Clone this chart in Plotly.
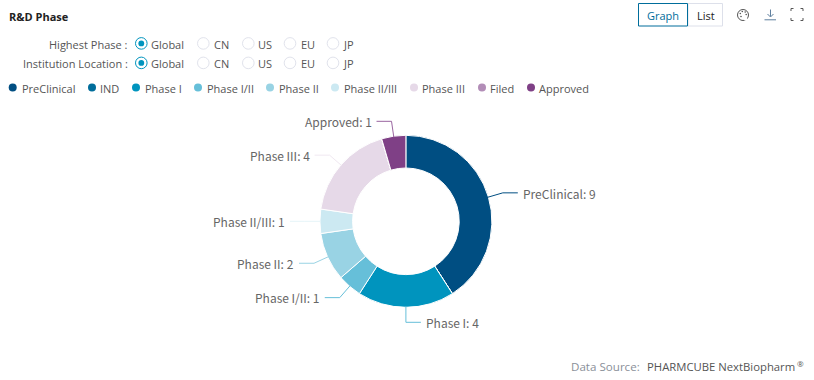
import math
import plotly.graph_objects as go

W, H = 814, 380
phases = ["PreClinical", "IND", "Phase I", "Phase I/II", "Phase II", "Phase II/III", "Phase III", "Filed", "Approved"]
counts = [9, 0, 4, 1, 2, 1, 4, 0, 1]
colors = ["#004E82", "#006D9B", "#0094BE", "#66BFD9", "#99D3E4", "#CCE9F2", "#E6D9E8", "#B28DB7", "#7F4086"]
line_colors = ["#004E82", "#006D9B", "#66BFD9", "#66BFD9", "#99D3E4", "#E5F4F8", "#F0E8F1", "#B28DB7", "#9A65A0"]
legend_dot_x = [12.7, 92, 136, 198, 270, 335, 414, 482, 531]
legend_text_x = [21.5, 100, 144.5, 206.5, 279, 343.5, 422, 490, 539]
filter_options = ["Global", "CN", "US", "EU", "JP"]
filter_dot_x = [141.3, 203.3, 248.3, 290, 333]
filter_text_x = [151, 213.5, 258, 300.5, 343]
filter_rows = ["Highest Phase :", "Institution Location :"]
filter_row_y = [44, 63.5]

CX, CY, R = 405.9, 221.3, 85.5
UI = "Open Sans, Noto Sans, sans-serif"
UI_SIZE = 11
LABEL = "Noto Sans CJK SC, Noto Sans, sans-serif"

def px(x): return x / W
def py(y): return 1 - y / H

shapes, ann = [], []

def text(x, y, s, size=UI_SIZE, color="#555", anchor="left", family=UI, bold=False):
    ann.append(dict(x=px(x), y=py(y), xref="paper", yref="paper", text=f"<b>{s}</b>" if bold else s,
                    showarrow=False, xanchor=anchor, yanchor="middle", borderpad=0, borderwidth=0,
                    font=dict(size=size, color=color, family=family)))

def circle(x, y, r, fill="rgba(0,0,0,0)", line=None, lw=1):
    shapes.append(dict(type="circle", xref="paper", yref="paper",
                       x0=px(x - r), x1=px(x + r), y0=py(y + r), y1=py(y - r),
                       fillcolor=fill, line=dict(color=line or "rgba(0,0,0,0)", width=lw if line else 0)))

def path(points, color, lw=1, close=False, fill=None):
    d = "M " + " L ".join(f"{px(a):.5f},{py(b):.5f}" for a, b in points)
    shapes.append(dict(type="path", xref="paper", yref="paper", path=d + (" Z" if close else ""),
                       line=dict(color=color, width=lw), fillcolor=fill or "rgba(0,0,0,0)"))

text(9, 16, "R&D Phase", size=11, color="#222", bold=True)

for row, y in zip(filter_rows, filter_row_y):
    text(127.5, y, row, color="#555", anchor="right")
    for i, (opt, dx, tx) in enumerate(zip(filter_options, filter_dot_x, filter_text_x)):
        if i == 0:
            circle(dx, y - 0.6, 5.8, fill="white", line="#0094BE")
            circle(dx, y - 0.6, 2.9, fill="#0094BE")
        else:
            circle(dx, y - 0.6, 5.8, fill="white", line="#E1E3EC")
        text(tx, y, opt, color="#555")

for d, t, name, c in zip(legend_dot_x, legend_text_x, phases, colors):
    circle(d, 87.5, 4, fill=c)
    text(t, 88, name, color="#555")

# View switch
shapes.append(dict(type="rect", xref="paper", yref="paper", x0=px(688), x1=px(722.5), y0=py(26), y1=py(3.5),
                   line=dict(color="#DDE0EA", width=1), fillcolor="white"))
shapes.append(dict(type="rect", xref="paper", yref="paper", x0=px(638.5), x1=px(687.5), y0=py(26), y1=py(3.5),
                   line=dict(color="#006D9B", width=1), fillcolor="white"))
text(663, 15.5, "Graph", color="#006D9B", anchor="center")
text(705.5, 15.5, "List", color="#222", anchor="center")

# Palette icon
circle(743, 15, 5.5, line="#555", lw=1)
for a, b in [(740.3, 13.5), (742.3, 11.5), (745.2, 12), (746.2, 14.5), (741, 16.5)]:
    circle(a, b, 0.8, fill="#555")
circle(745.5, 19, 1.7, fill="white")
# Download icon
path([(770.5, 9.5), (770.5, 16.5)], "#5F7F9E")
path([(767.5, 14), (770.5, 17), (773.5, 14)], "#5F7F9E")
path([(764.5, 19.8), (776, 19.8)], "#5F7F9E")
# Fullscreen icon
for a, b, sx, sy in [(791, 8.5, 1, 1), (803, 8.5, -1, 1), (791, 20.5, 1, -1), (803, 20.5, -1, -1)]:
    path([(a, b + 2.5 * sy), (a, b), (a + 2.5 * sx, b)], "#555")

# Leader lines and labels derive from the data
total = sum(counts)
acc = 0
for name, v, lc in zip(phases, counts, line_colors):
    if v:
        ang = math.radians((acc + v / 2) / total * 360)
        s, c = math.sin(ang), math.cos(ang)
        p0 = (CX + s * (R - 0.5), CY - c * (R - 0.5))
        p1 = (CX + s * 101, CY - c * 101)
        side = 1 if s >= -1e-9 else -1
        p2 = (p1[0] + side * 15, p1[1])
        path([p0, p1, p2], lc)
        text(p2[0] + side * 5, p2[1] + 0.3, f"{name}: {v}", size=12, color="#666",
             anchor="left" if side > 0 else "right", family=LABEL)
    acc += v

text(640, 366, "Data Source:", size=11.6, color="#8A8F99", anchor="right")
text(647, 366, "PHARMCUBE NextBiopharm", size=11.3, color="#555")
text(796.5, 363.5, "®", size=8, color="#555")

fig = go.Figure(go.Pie(
    labels=phases, values=counts, sort=False, direction="clockwise", rotation=0,
    hole=0.62, textinfo="none", hoverinfo="label+value",
    marker=dict(colors=colors, line=dict(color="white", width=1)),
    domain=dict(x=[px(CX - R - 0.5), px(CX + R + 0.5)], y=[py(CY + R + 0.5), py(CY - R - 0.5)]),
    showlegend=False,
))
fig.update_layout(width=W, height=H, margin=dict(l=0, r=0, t=0, b=0), paper_bgcolor="white",
                  shapes=shapes, annotations=ann, showlegend=False)
fig.write_html("out.html", config=dict(displayModeBar=False),
               post_script="document.body.style.margin='0';document.documentElement.style.overflow='hidden';")
